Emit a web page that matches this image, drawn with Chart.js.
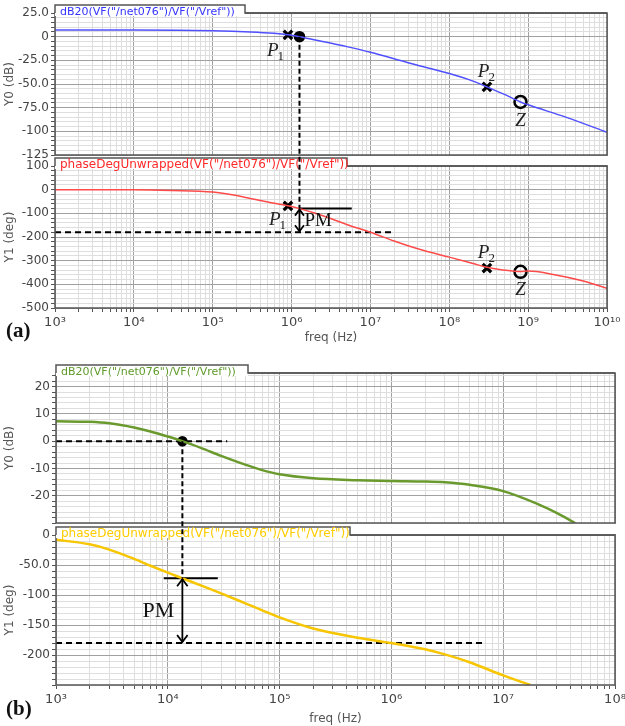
<!DOCTYPE html>
<html>
<head>
<meta charset="utf-8">
<script src="https://cdn.jsdelivr.net/npm/chart.js@4.4.1/dist/chart.umd.min.js"></script>
<style>
  html, body { margin: 0; padding: 0; background: #fff; }
  body { width: 625px; height: 726px; position: relative; overflow: hidden; }
  canvas { position: absolute; left: 0; }
  #chartA { top: 0; }
  #chartB { top: 350px; }
  .tag { position: absolute; left: 6px; font: bold 21px "Liberation Serif", serif; color: #111; }
</style>
</head>
<body>
<canvas id="chartA" width="625" height="345"></canvas>
<canvas id="chartB" width="625" height="376"></canvas>
<div class="tag" style="top:318px">(a)</div>
<div class="tag" style="top:696px">(b)</div>
<script>
// ---------- panel (a) ----------
const freqMagA = [1e3, 1e4, 1e5, 3e5, 6e5, 9e5, 1.26e6, 2e6, 3e6, 5e6, 1e7, 3e7, 1e8, 2e8, 3e8, 5e8, 8e8, 1e9, 3e9, 1e10];
const magA = [7, 7, 6.3, 5, 3.5, 2, 0, -3.5, -6.5, -10.5, -16.5, -27.5, -39, -47, -53, -61, -69, -72, -85, -101];
const freqPhA = [1e3, 1e4, 3e4, 1e5, 2e5, 3e5, 5e5, 9e5, 1.26e6, 2e6, 3e6, 5e6, 1e7, 2e7, 3e7, 5e7, 1e8, 2e8, 3e8, 5e8, 8e8, 1e9, 2e9, 5e9, 1e10];
const phaseA = [0, 0, -3, -10, -25, -37, -52, -68, -80, -100, -120, -147, -180, -217, -237, -259, -285, -312, -328, -340, -346, -344, -357, -386, -417];
const poleFreqA = [9e5, 3e8];
const poleMagA = [2, -53];
const polePhA = [-69, -331];
const poleNamesA = ['1', '2'];
const zeroFreqA = [8e8];
const zeroMagA = [-69];
const zeroPhA = [-347];
const ugfA = 1.26e6;          // 0 dB crossing
const pmPhaseA = -80;         // phase at crossing
const pmLineEndA = 5.8e6;
const refLineEndA = 1.9e7;
const magTicksA = [25, 0, -25, -50, -75, -100, -125];
const magLabelsA = ['25.0', '0', '-25.0', '-50.0', '-75.0', '-100', '-125'];
const phTicksA = [100, 0, -100, -200, -300, -400, -500];
const phLabelsA = ['100', '0', '-100', '-200', '-300', '-400', '-500'];
const decadeLabelsA = ['10³', '10⁴', '10⁵', '10⁶', '10⁷', '10⁸', '10⁹', '10¹⁰'];

// ---------- panel (b) ----------
const freqMagB = [1e3, 2e3, 3e3, 5e3, 7e3, 1e4, 1.35e4, 2e4, 3e4, 5e4, 7e4, 1e5, 2e5, 5e5, 1e6, 2e6, 3e6, 5e6, 1e7, 2e7, 3e7, 4.4e7];
const magB = [7.3, 7.1, 6.55, 5.0, 3.55, 1.7, 0, -2.55, -5.4, -8.7, -10.6, -12.15, -13.6, -14.3, -14.6, -14.8, -15.1, -16.0, -18.3, -22.9, -26.3, -30];
const freqPhB = [1e3, 2e3, 3e3, 5e3, 7e3, 1e4, 1.35e4, 2e4, 3e4, 5e4, 7e4, 1e5, 2e5, 5e5, 1e6, 2e6, 3e6, 5e6, 1e7, 1.75e7];
const phaseB = [-8, -15.5, -24.3, -39.8, -51.2, -62.8, -72.2, -84.4, -97.4, -114.3, -125.5, -137.3, -155.9, -171.1, -180.1, -190.5, -199, -212, -234, -250];
const ugfB = 1.35e4;
const pmPhaseB = -72;
const pmLineB = [9.2e3, 2.8e4];
const zeroLineEndB = 3.4e4;
const refLineEndB = 6.5e6;
const magTicksB = [20, 10, 0, -10, -20];
const magLabelsB = ['20', '10', '0', '-10', '-20'];
const phTicksB = [0, -50, -100, -150, -200];
const phLabelsB = ['0', '-50.0', '-100', '-150', '-200'];
const decadeLabelsB = ['10³', '10⁴', '10⁵', '10⁶', '10⁷', '10⁸'];

const magTitle = 'dB20(VF("/net076")/VF("/Vref"))';
const phTitle = 'phaseDegUnwrapped(VF("/net076")/VF("/Vref"))';

const FONT = 'DejaVu Sans';

function yAxis(min, max, step, majors, labels, title, stackWeight, weight, width) {
  return {
    type: 'linear', position: 'left', stack: 'plots', stackWeight, weight,
    min, max,
    afterBuildTicks(s) {
      const t = [];
      for (let v = min; v <= max + 1e-9; v += step) t.push({ value: Math.round(v * 1000) / 1000 });
      s.ticks = t;
    },
    ticks: {
      autoSkip: false, padding: 2, color: '#444', font: { family: FONT, size: 12 },
      callback: v => { const i = majors.indexOf(v); return i < 0 ? '' : labels[i]; }
    },
    grid: {
      color: c => majors.includes(c.tick && c.tick.value) ? '#a0a0a0' : '#dedede',
      tickColor: '#555', tickLength: 4, lineWidth: 1
    },
    border: { display: false },
    title: { display: true, text: title, color: '#555', font: { family: FONT, size: 12 }, padding: { top: 3, bottom: 0 } },
    afterFit(s) { s.width = width; s.paddingTop = 0; s.paddingBottom = 0; }
  };
}

function gapAxis(stackWeight, weight) {
  return { type: 'linear', position: 'left', stack: 'plots', stackWeight, weight, display: false, min: 0, max: 1 };
}

function xAxis(minExp, maxExp, labels, height) {
  return {
    type: 'logarithmic', position: 'bottom', min: Math.pow(10, minExp), max: Math.pow(10, maxExp),
    afterBuildTicks(s) {
      const t = [];
      for (let e = minExp; e < maxExp; e++)
        for (let m = 1; m < 10; m++) t.push({ value: m * Math.pow(10, e) });
      t.push({ value: Math.pow(10, maxExp) });
      s.ticks = t;
    },
    ticks: {
      autoSkip: false, maxRotation: 0, padding: 3, color: '#444', font: { family: FONT, size: 13 },
      callback: v => {
        const e = Math.log10(v);
        return Math.abs(e - Math.round(e)) < 1e-6 ? labels[Math.round(e) - minExp] : '';
      }
    },
    grid: {
      color: c => {
        const e = Math.log10(c.tick ? c.tick.value : 1);
        return Math.abs(e - Math.round(e)) < 1e-6 ? '#a0a0a0' : '#dedede';
      },
      tickColor: '#555', tickLength: 4
    },
    border: { display: false },
    title: { display: true, text: 'freq (Hz)', color: '#555', font: { family: FONT, size: 12 }, padding: { top: 0, bottom: 0 } },
    afterFit(s) { s.height = height; s.paddingLeft = 0; s.paddingRight = 0; }
  };
}

function pts(xs, ys) { return xs.map((x, i) => ({ x, y: ys[i] })); }

function curve(data, color, width, axis) {
  return { data, borderColor: color, borderWidth: width, pointRadius: 0, yAxisID: axis, cubicInterpolationMode: 'monotone' };
}
function guide(data, axis, dash) {
  return { data, borderColor: '#000', borderWidth: 2, borderDash: dash, pointRadius: 0, yAxisID: axis };
}
function marker(data, axis, style, radius, fill) {
  return { data, showLine: false, yAxisID: axis, pointStyle: style, pointRadius: radius, pointHoverRadius: radius,
    pointBorderColor: '#000', pointBackgroundColor: fill, pointBorderWidth: style === 'crossRot' ? 3.2 : 2.5 };
}

function drawTab(ctx, left, right, plotTop, tabW, text, color, size) {
  const h = 8;
  ctx.save();
  ctx.fillStyle = '#fff';
  ctx.fillRect(left, plotTop - h, tabW, h + 3);
  ctx.strokeStyle = '#555'; ctx.lineWidth = 1.5;
  ctx.beginPath();
  ctx.moveTo(left, plotTop); ctx.lineTo(left, plotTop - h); ctx.lineTo(left + tabW, plotTop - h);
  ctx.lineTo(left + tabW, plotTop); ctx.lineTo(right, plotTop);
  ctx.stroke();
  ctx.fillStyle = color; ctx.font = size + 'px "' + FONT + '"';
  ctx.textAlign = 'left'; ctx.textBaseline = 'alphabetic';
  ctx.fillText(text, left + 5, plotTop + 2);
  ctx.restore();
}

function subLabel(ctx, cx, cy, main, sub) {
  ctx.save();
  ctx.fillStyle = '#222';
  ctx.textAlign = 'left'; ctx.textBaseline = 'alphabetic';
  ctx.font = 'italic 19px "Liberation Serif"';
  const w1 = ctx.measureText(main).width;
  ctx.font = '13px "Liberation Serif"';
  const w2 = sub ? ctx.measureText(sub).width : 0;
  const x0 = cx - (w1 + w2) / 2;
  ctx.font = 'italic 19px "Liberation Serif"';
  ctx.fillText(main, x0, cy + 6);
  if (sub) { ctx.font = '13px "Liberation Serif"'; ctx.fillText(sub, x0 + w1 - 1, cy + 10); }
  ctx.restore();
}

function arrowHead(ctx, x, y, dir, size) {
  ctx.beginPath();
  ctx.moveTo(x - size * 0.75, y - dir * size);
  ctx.lineTo(x, y);
  ctx.lineTo(x + size * 0.75, y - dir * size);
  ctx.stroke();
}

const decor = {
  id: 'decor',
  beforeDatasetsDraw(chart) {
    const { ctx, chartArea: a, scales: s } = chart;
    ctx.save();
    ctx.fillStyle = '#fff';
    ctx.fillRect(a.left - 2, s.yMag.bottom + 1, a.width + 4, s.yPh.top - s.yMag.bottom - 2);
    ctx.restore();
  },
  afterDatasetsDraw(chart, args, o) {
    const { ctx, chartArea: a, scales: s } = chart;
    const x = s.x, ym = s.yMag, yp = s.yPh;
    // frames
    ctx.save();
    ctx.strokeStyle = '#555'; ctx.lineWidth = 1.5;
    ctx.strokeRect(a.left, ym.top, a.width, ym.bottom - ym.top);
    ctx.strokeRect(a.left, yp.top, a.width, yp.bottom - yp.top);
    ctx.restore();
    drawTab(ctx, a.left, a.right, ym.top, o.magTabW, magTitle, o.magColor, o.magSize);
    drawTab(ctx, a.left, a.right, yp.top, o.phTabW, phTitle, o.phColor, o.phSize);

    const ux = x.getPixelForValue(o.ugf);
    const y0 = ym.getPixelForValue(0);
    const yPm = yp.getPixelForValue(o.pm);
    const y180 = yp.getPixelForValue(-180);
    ctx.save();
    ctx.strokeStyle = '#000'; ctx.lineWidth = 2;
    ctx.setLineDash([5, 3]);
    ctx.beginPath(); ctx.moveTo(ux, y0); ctx.lineTo(ux, yPm); ctx.stroke();
    ctx.setLineDash([]);
    ctx.lineWidth = 1.8;
    ctx.beginPath(); ctx.moveTo(ux, yPm + 1); ctx.lineTo(ux, y180 - 1); ctx.stroke();
    arrowHead(ctx, ux, yPm + 1, -1, o.head);
    arrowHead(ctx, ux, y180 - 1, 1, o.head);
    ctx.fillStyle = '#111';
    ctx.font = o.pmSize + 'px "Liberation Serif"';
    ctx.textBaseline = 'middle';
    ctx.textAlign = o.pmSide > 0 ? 'left' : 'right';
    ctx.fillText('PM', ux + o.pmSide * o.pmGap, (yPm + y180) / 2 + 1);
    ctx.restore();

    (o.labels || []).forEach(l => {
      const px = x.getPixelForValue(l.f);
      const py = (l.axis === 'yMag' ? ym : yp).getPixelForValue(l.v);
      subLabel(ctx, px + l.dx, py + l.dy, l.main, l.sub);
    });
  }
};

function baseOptions(padTop, padRight) {
  return {
    responsive: false, animation: false,
    layout: { padding: { top: padTop, right: padRight, left: 0, bottom: 0 } },
    plugins: { legend: { display: false }, tooltip: { enabled: false } },
    elements: { line: { tension: 0 } }
  };
}

// ---------- chart (a) ----------
const labelsA = [];
poleFreqA.forEach((f, i) => {
  const dx = i === 0 ? -12 : 0, dy = i === 0 ? 15 : -16;
  labelsA.push({ f, v: poleMagA[i], axis: 'yMag', dx, dy, main: 'P', sub: poleNamesA[i] });
  labelsA.push({ f, v: polePhA[i], axis: 'yPh', dx: i === 0 ? -10 : 0, dy: i === 0 ? 13 : -16, main: 'P', sub: poleNamesA[i] });
});
zeroFreqA.forEach((f, i) => {
  labelsA.push({ f, v: zeroMagA[i], axis: 'yMag', dx: 0, dy: 18, main: 'Z', sub: '' });
  labelsA.push({ f, v: zeroPhA[i], axis: 'yPh', dx: 0, dy: 17, main: 'Z', sub: '' });
});

const optsA = baseOptions(13, 18);
optsA.scales = {
  x: xAxis(3, 10, decadeLabelsA, 37),
  yPh: yAxis(-500, 100, 20, phTicksA, phLabelsA, 'Y1 (deg)', 142, 1, 55),
  yGap: gapAxis(11, 2),
  yMag: yAxis(-125, 25, 5, magTicksA, magLabelsA, 'Y0 (dB)', 142, 3, 55)
};
optsA.plugins.decor = {
  ugf: ugfA, pm: pmPhaseA, magTabW: 190, phTabW: 292,
  magColor: '#3333ff', phColor: '#ff2a2a', magSize: 11, phSize: 12,
  pmSize: 19, pmSide: 1, pmGap: 5, head: 6, labels: labelsA
};

new Chart(document.getElementById('chartA'), {
  type: 'line',
  data: {
    datasets: [
      curve(pts(freqMagA, magA), '#5050ff', 1.5, 'yMag'),
      curve(pts(freqPhA, phaseA), '#ff4a4a', 1.5, 'yPh'),
      guide([{ x: 1e3, y: -180 }, { x: refLineEndA, y: -180 }], 'yPh', [6, 4]),
      guide([{ x: ugfA, y: pmPhaseA }, { x: pmLineEndA, y: pmPhaseA }], 'yPh', []),
      marker(pts(poleFreqA, poleMagA), 'yMag', 'crossRot', 6, '#000'),
      marker(pts(poleFreqA, polePhA), 'yPh', 'crossRot', 6, '#000'),
      marker(pts(zeroFreqA, zeroMagA), 'yMag', 'circle', 6, 'rgba(255,255,255,0)'),
      marker(pts(zeroFreqA, zeroPhA), 'yPh', 'circle', 6, 'rgba(255,255,255,0)'),
      marker([{ x: ugfA, y: 0 }], 'yMag', 'circle', 4.5, '#000')
    ]
  },
  options: optsA,
  plugins: [decor]
});

// ---------- chart (b) ----------
const optsB = baseOptions(23, 10);
optsB.scales = {
  x: xAxis(3, 8, decadeLabelsB, 41),
  yPh: yAxis(-250, 0, 10, phTicksB, phLabelsB, 'Y1 (deg)', 150, 1, 56),
  yGap: gapAxis(12, 2),
  yMag: yAxis(-30, 25, 2, magTicksB, magLabelsB, 'Y0 (dB)', 150, 3, 56)
};
optsB.plugins.decor = {
  ugf: ugfB, pm: pmPhaseB, magTabW: 192, phTabW: 294,
  magColor: '#5e9a2a', phColor: '#ffcc00', magSize: 11, phSize: 12,
  pmSize: 22, pmSide: -1, pmGap: 8, head: 7, labels: []
};

new Chart(document.getElementById('chartB'), {
  type: 'line',
  data: {
    datasets: [
      curve(pts(freqMagB, magB), '#6a9a2e', 2.5, 'yMag'),
      curve(pts(freqPhB, phaseB), '#f7c600', 2.5, 'yPh'),
      guide([{ x: 1e3, y: 0 }, { x: zeroLineEndB, y: 0 }], 'yMag', [6, 4]),
      guide([{ x: 1e3, y: -180 }, { x: refLineEndB, y: -180 }], 'yPh', [6, 4]),
      guide([{ x: pmLineB[0], y: pmPhaseB }, { x: pmLineB[1], y: pmPhaseB }], 'yPh', []),
      marker([{ x: ugfB, y: 0 }], 'yMag', 'circle', 4, '#000')
    ]
  },
  options: optsB,
  plugins: [decor]
});
</script>
</body>
</html>
